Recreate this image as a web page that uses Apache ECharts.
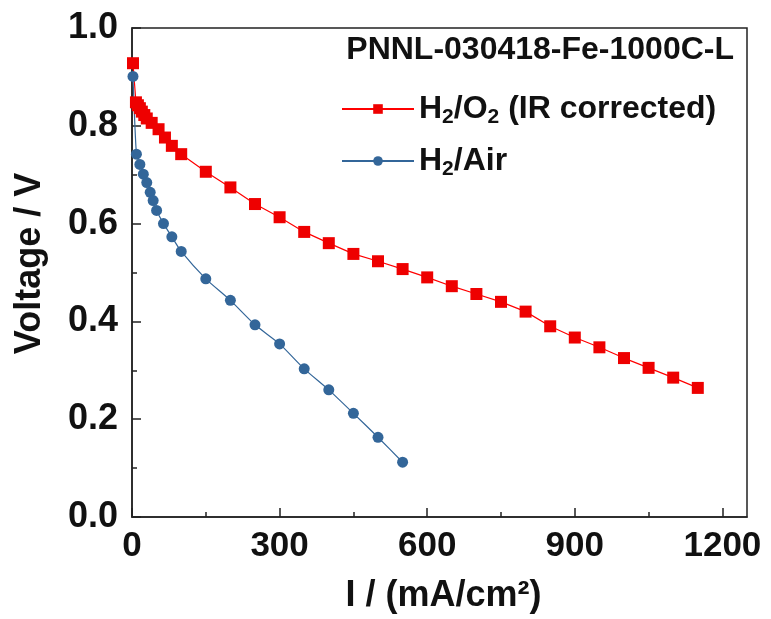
<!DOCTYPE html>
<html><head><meta charset="utf-8">
<script src="https://cdn.jsdelivr.net/npm/echarts@6/dist/echarts.min.js"></script>
<style>html,body{margin:0;padding:0;background:#fff}#c{width:771px;height:619px}</style>
</head><body><div id="c"></div>
<script>
// H2/O2 (IR corrected)
const o2X = [2, 8, 12, 16, 20, 25, 30, 40, 54, 67, 81, 100, 150, 200, 250, 300, 350, 400, 450, 500, 550, 600, 650, 700, 750, 800, 850, 900, 950, 1000, 1050, 1100, 1150];
const o2Y = [0.928, 0.848, 0.842, 0.836, 0.829, 0.822, 0.815, 0.806, 0.793, 0.776, 0.759, 0.742, 0.706, 0.674, 0.640, 0.613, 0.583, 0.560, 0.538, 0.523, 0.507, 0.490, 0.472, 0.456, 0.440, 0.420, 0.390, 0.367, 0.347, 0.325, 0.305, 0.285, 0.264];
// H2/Air
const airX = [2, 9, 16, 23, 30, 37, 43, 50, 64, 81, 100, 150, 200, 250, 300, 350, 400, 450, 500, 550];
const airY = [0.901, 0.742, 0.721, 0.701, 0.684, 0.664, 0.647, 0.627, 0.600, 0.573, 0.543, 0.487, 0.443, 0.393, 0.354, 0.303, 0.260, 0.212, 0.163, 0.112];
const xTicks = [0, 300, 600, 900, 1200];
const xMinorTicks = [150, 450, 750, 1050];
const yTicks = [0.0, 0.2, 0.4, 0.6, 0.8, 1.0];
const titleText = 'PNNL-030418-Fe-1000C-L';
const seriesNames = ['H2/O2 (IR corrected)', 'H2/Air'];

const FONT = '"Liberation Sans", Arial, sans-serif';
const chart = echarts.init(document.getElementById('c'), null, {renderer: 'canvas'});
const pair = (xs, ys) => xs.map((x, i) => [x, ys[i]]);
const legendFmt = {
  'H2/O2 (IR corrected)': '{n|H}{s|2}{n|/O}{s|2}{n| (IR corrected)}',
  'H2/Air': '{n|H}{s|2}{n|/Air}'
};
chart.setOption({
  animation: false,
  backgroundColor: '#fff',
  textStyle: {fontFamily: FONT},
  title: {
    text: titleText, right: 32, top: 29,
    textStyle: {fontFamily: FONT, fontWeight: 'bold', fontSize: 32, color: '#111'}
  },
  legend: {
    orient: 'vertical', left: 336, top: 85, itemGap: 14,
    itemWidth: 72, itemHeight: 12, itemSymbolSize: 10,
    data: seriesNames,
    formatter: n => legendFmt[n],
    textStyle: {
      fontFamily: FONT, color: '#111',
      rich: {
        n: {fontSize: 32, fontWeight: 'bold', fontFamily: FONT, color: '#111', lineHeight: 36, verticalAlign: 'middle'},
        s: {fontSize: 21, fontWeight: 'bold', fontFamily: FONT, color: '#111', lineHeight: 36, padding: [17, 0, 0, 0], verticalAlign: 'middle'}
      }
    }
  },
  grid: {left: 132, right: 24, top: 28, bottom: 99, show: true, borderColor: '#222', borderWidth: 1.5},
  xAxis: [{
    type: 'value', min: 0, max: 1250, position: 'bottom',
    name: 'I / (mA/cm²)', nameLocation: 'middle', nameGap: 61,
    nameTextStyle: {fontFamily: FONT, fontWeight: 'bold', fontSize: 36, color: '#111', padding: [0, 0, 0, 8]},
    axisLine: {show: true, lineStyle: {color: '#222', width: 1.5}},
    axisTick: {show: true, inside: true, length: 9, customValues: xTicks, lineStyle: {color: '#222', width: 1.5}},
    axisLabel: {customValues: xTicks, fontFamily: FONT, fontWeight: 'bold', fontSize: 35, color: '#111', margin: 12,
      formatter: v => String(v)},
    splitLine: {show: false}
  }, {
    type: 'value', min: 0, max: 1250, position: 'bottom',
    axisLine: {show: false},
    axisTick: {show: true, inside: true, length: 5, customValues: xMinorTicks, lineStyle: {color: '#222', width: 1.5}},
    axisLabel: {show: false},
    splitLine: {show: false}
  }],
  yAxis: {
    type: 'value', min: yTicks[0], max: yTicks[yTicks.length - 1], interval: 0.2,
    name: 'Voltage / V', nameLocation: 'middle', nameGap: 84,
    nameTextStyle: {fontFamily: FONT, fontWeight: 'bold', fontSize: 36, color: '#111', padding: [0, 0, 0, 18]},
    axisLine: {show: true, lineStyle: {color: '#222', width: 1.5}},
    axisTick: {show: true, inside: true, length: 9, lineStyle: {color: '#222', width: 1.5}},
    minorTick: {show: true, splitNumber: 2, length: 5, lineStyle: {color: '#222', width: 1.5}},
    axisLabel: {fontFamily: FONT, fontWeight: 'bold', fontSize: 36, color: '#111', margin: 14,
      formatter: v => v.toFixed(1)},
    splitLine: {show: false}
  },
  series: [{
    name: seriesNames[0], type: 'line', data: pair(o2X, o2Y),
    symbol: 'rect', symbolSize: 12, showAllSymbol: true,
    lineStyle: {color: '#ff0000', width: 1.2}, itemStyle: {color: '#ee0000'}
  }, {
    name: seriesNames[1], type: 'line', data: pair(airX, airY),
    symbol: 'circle', symbolSize: 11, showAllSymbol: true, smooth: 0.2,
    lineStyle: {color: '#336699', width: 1.2}, itemStyle: {color: '#336699'}
  }]
});
</script></body></html>
